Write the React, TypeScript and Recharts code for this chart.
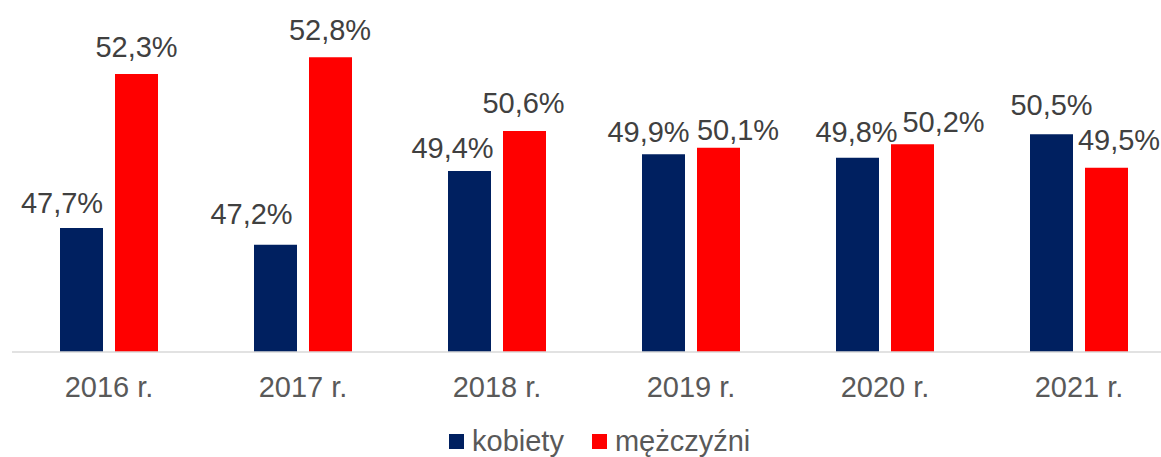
import { Bar, BarChart, LabelList, Legend, XAxis, YAxis } from "recharts";

const years = ["2016 r.", "2017 r.", "2018 r.", "2019 r.", "2020 r.", "2021 r."];
const kobiety = [47.7, 47.2, 49.4, 49.9, 49.8, 50.5];
const mezczyzni = [52.3, 52.8, 50.6, 50.1, 50.2, 49.5];

// hand-placed data labels (shift from bar centre, gap above bar top)
const kobietyLabelDx = [-19.5, -24, -17, -15, -1, 0];
const kobietyLabelGap = [15, 21, 13, 12, 16, 19];
const mezczyzniLabelDx = [0, -0.5, -1, 19.5, 31, 12.5];
const mezczyzniLabelGap = [17, 17, 18, 8, 12, 18];

const FONT = "'Liberation Sans', Arial, sans-serif";
const NAVY = "#002060";
const RED = "#FF0000";

const data = years.map((year, i) => ({
  year,
  kobiety: kobiety[i],
  mezczyzni: mezczyzni[i],
}));

const fmt = (v: number) => `${v.toFixed(1).replace(".", ",")}%`;

const makeLabel =
  (dxs: number[], gaps: number[]) =>
  ({ x, y, width, value, index }: any) =>
    (
      <text
        x={Number(x) + Number(width) / 2 + dxs[index]}
        y={Number(y) - gaps[index]}
        textAnchor="middle"
        fill="#404040"
        fontFamily={FONT}
        fontSize={29}
      >
        {fmt(Number(value))}
      </text>
    );

const renderLegend = ({ payload }: any) => (
  <div
    style={{
      display: "flex",
      alignItems: "center",
      gap: 28,
      fontFamily: FONT,
      fontSize: 29,
      color: "#595959",
      whiteSpace: "nowrap",
    }}
  >
    {(payload || []).map((entry: any) => (
      <span key={entry.value} style={{ display: "flex", alignItems: "center" }}>
        <span
          style={{
            display: "inline-block",
            width: 15,
            height: 15,
            background: entry.color,
            marginRight: 8,
          }}
        />
        {entry.value}
      </span>
    ))}
  </div>
);

export default function App() {
  return (
    <div
      style={{
        position: "absolute",
        left: 0,
        top: 0,
        width: 1161,
        height: 457,
        overflow: "hidden",
        background: "#fff",
      }}
    >
      <BarChart
        width={1180}
        height={457}
        data={data}
        margin={{ top: 17, right: 4, bottom: 45, left: 12 }}
        barSize={43}
        barGap={12}
      >
        <XAxis
          dataKey="year"
          height={60}
          tickLine={false}
          tickSize={0}
          tickMargin={24}
          axisLine={{ stroke: "#D9D9D9", strokeWidth: 1.5 }}
          tick={{ fill: "#595959", fontSize: 29, fontFamily: FONT }}
          interval={0}
        />
        <YAxis hide domain={[44, 54]} allowDataOverflow />
        <Legend
          content={renderLegend}
          layout="horizontal"
          verticalAlign="middle"
          align="center"
          wrapperStyle={{ top: 425, left: 449, width: "auto" }}
        />
        <Bar dataKey="kobiety" name="kobiety" fill={NAVY} isAnimationActive={false}>
          <LabelList dataKey="kobiety" content={makeLabel(kobietyLabelDx, kobietyLabelGap)} />
        </Bar>
        <Bar dataKey="mezczyzni" name="mężczyźni" fill={RED} isAnimationActive={false}>
          <LabelList
            dataKey="mezczyzni"
            content={makeLabel(mezczyzniLabelDx, mezczyzniLabelGap)}
          />
        </Bar>
      </BarChart>
    </div>
  );
}
